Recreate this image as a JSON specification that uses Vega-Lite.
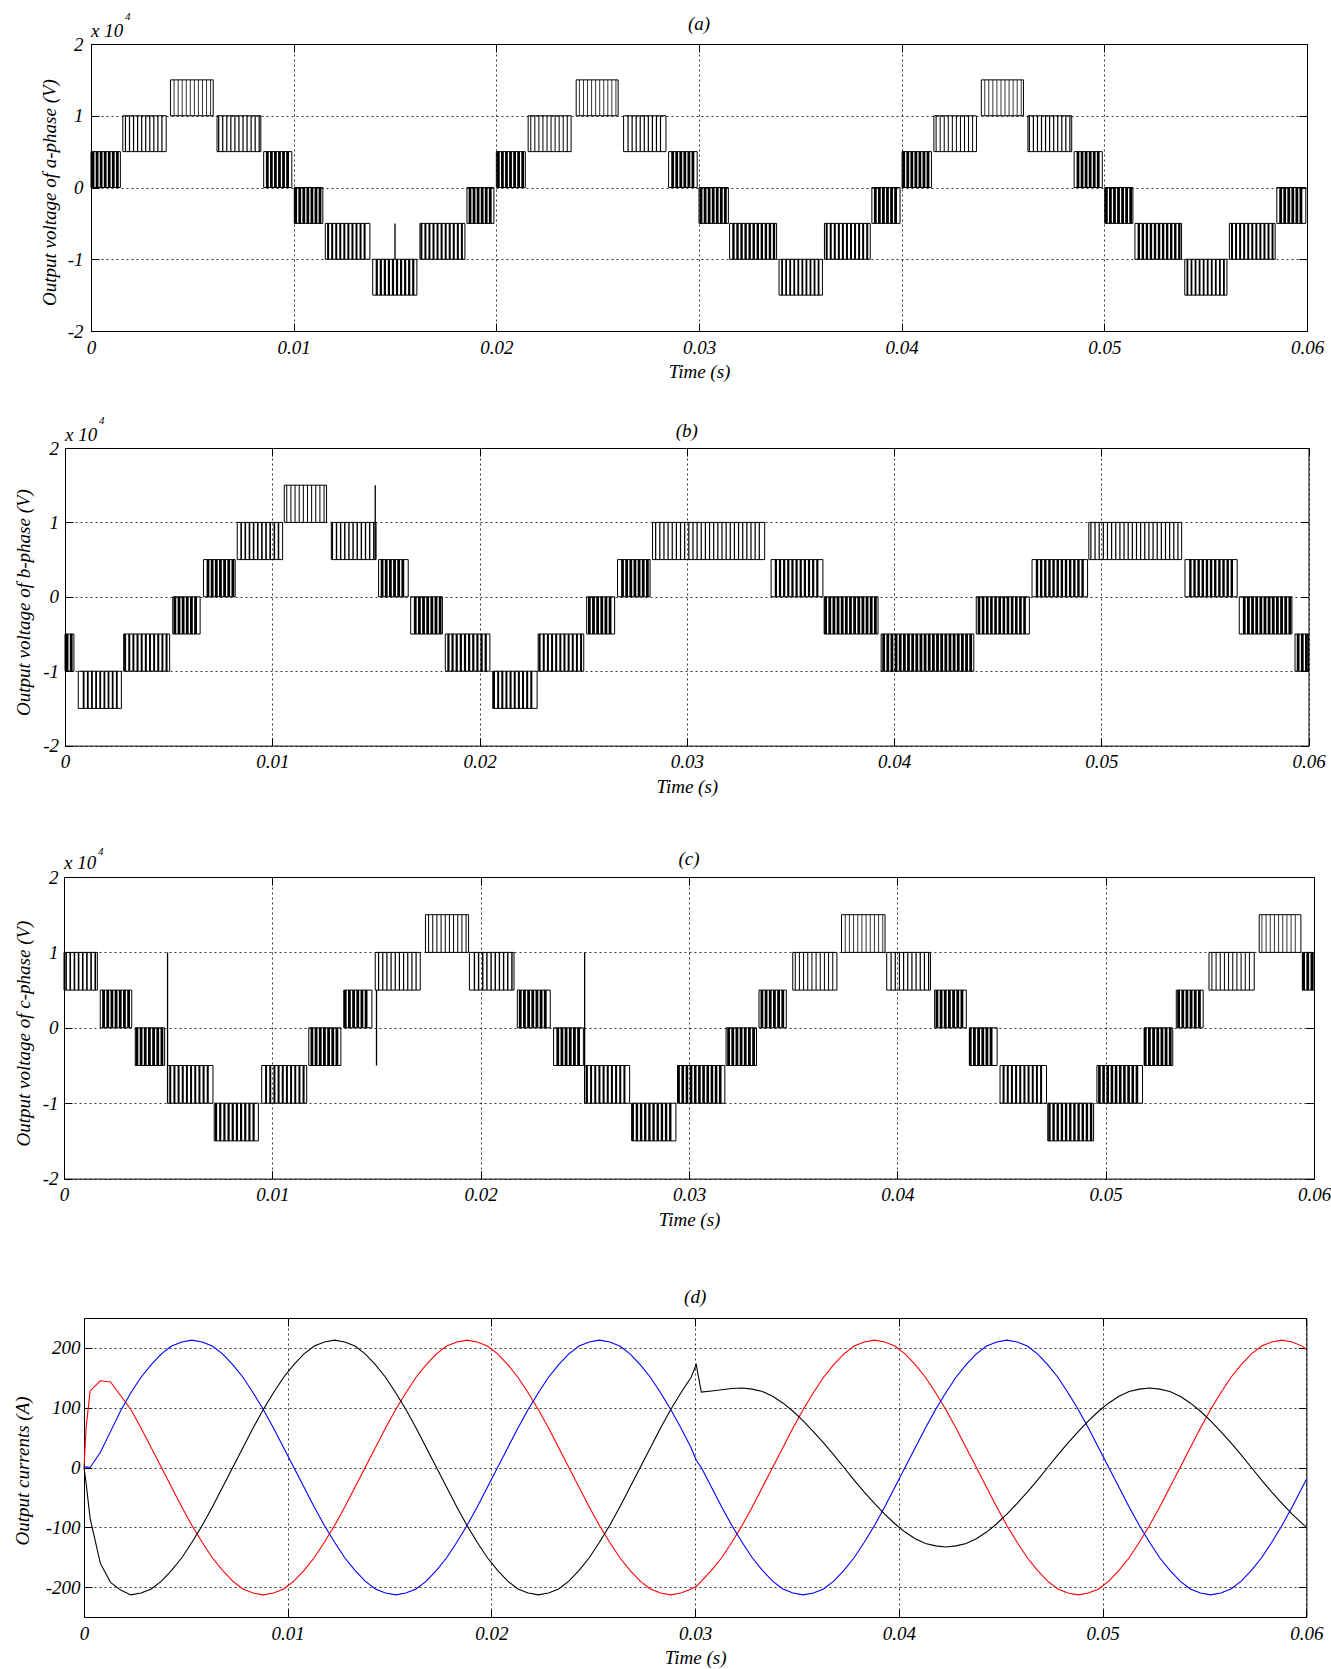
{
"$schema":"https://vega.github.io/schema/vega-lite/v6.json",
"background":"white",
"padding":{"left":9,"top":0,"right":1,"bottom":0},
"config":{
 "font":"Liberation Serif",
 "view":{"stroke":"black","strokeWidth":1},
 "axis":{"labelFont":"Liberation Serif","labelFontStyle":"italic","labelFontSize":19,"labelColor":"black","titleFont":"Liberation Serif","titleFontStyle":"italic","titleFontWeight":"normal","titleFontSize":19,"titleColor":"black","grid":true,"gridColor":"black","gridDash":[2,3],"gridWidth":0.8,"domain":false,"tickColor":"black","tickSize":-8,"tickWidth":1,"labelFlush":false,"labelOverlap":false}
},
"datasets":{
"segA":[
{"t0":0,"t1":1.45,"l":0,"h":0.5,"d":0.7,"c":[0.1,0.3,0.5,0.7,0.9,1.1,1.3]},
{"t0":1.57,"t1":3.71,"l":0.5,"h":1,"d":0.3,"c":[1.7,1.9,2.1,2.3,2.5,2.7,2.9,3.1,3.3,3.5]},
{"t0":3.92,"t1":6.03,"l":1,"h":1.5,"d":0.2,"c":[4.1,4.3,4.5,4.7,4.9,5.1,5.3,5.5,5.7,5.9]},
{"t0":6.22,"t1":8.38,"l":0.5,"h":1,"d":0.3,"c":[6.3,6.5,6.7,6.9,7.1,7.3,7.5,7.7,7.9,8.1,8.3]},
{"t0":8.52,"t1":9.91,"l":0,"h":0.5,"d":0.7,"c":[8.7,8.9,9.1,9.3,9.5,9.7]},
{"t0":10.03,"t1":11.44,"l":-0.5,"h":0,"d":0.7,"c":[10.1,10.3,10.5,10.7,10.9,11.1,11.3]},
{"t0":11.56,"t1":13.76,"l":-1,"h":-0.5,"d":0.5,"c":[11.7,11.9,12.1,12.3,12.5,12.7,12.9,13.1,13.3,13.5]},
{"t0":13.9,"t1":16.08,"l":-1.5,"h":-1,"d":0.55,"c":[14.1,14.3,14.5,14.7,14.9,15.1,15.3,15.5,15.7,15.9]},
{"t0":16.23,"t1":18.45,"l":-1,"h":-0.5,"d":0.5,"c":[16.3,16.5,16.7,16.9,17.1,17.3,17.5,17.7,17.9,18.1,18.3]},
{"t0":18.55,"t1":19.88,"l":-0.5,"h":0,"d":0.7,"c":[18.7,18.9,19.1,19.3,19.5,19.7]},
{"t0":20,"t1":21.43,"l":0,"h":0.5,"d":0.7,"c":[20.1,20.3,20.5,20.7,20.9,21.1,21.3]},
{"t0":21.57,"t1":23.69,"l":0.5,"h":1,"d":0.25,"c":[21.7,21.9,22.1,22.3,22.5,22.7,22.9,23.1,23.3,23.5]},
{"t0":23.94,"t1":26.01,"l":1,"h":1.5,"d":0.2,"c":[24.1,24.3,24.5,24.7,24.9,25.1,25.3,25.5,25.7,25.9]},
{"t0":26.28,"t1":28.37,"l":0.5,"h":1,"d":0.3,"c":[26.5,26.7,26.9,27.1,27.3,27.5,27.7,27.9,28.1]},
{"t0":28.5,"t1":29.91,"l":0,"h":0.5,"d":0.7,"c":[28.7,28.9,29.1,29.3,29.5,29.7]},
{"t0":30,"t1":31.45,"l":-0.5,"h":0,"d":0.7,"c":[30.1,30.3,30.5,30.7,30.9,31.1,31.3]},
{"t0":31.51,"t1":33.83,"l":-1,"h":-0.5,"d":0.6,"c":[31.7,31.9,32.1,32.3,32.5,32.7,32.9,33.1,33.3,33.5,33.7]},
{"t0":33.95,"t1":36.09,"l":-1.5,"h":-1,"d":0.45,"c":[34.1,34.3,34.5,34.7,34.9,35.1,35.3,35.5,35.7,35.9]},
{"t0":36.19,"t1":38.45,"l":-1,"h":-0.5,"d":0.5,"c":[36.3,36.5,36.7,36.9,37.1,37.3,37.5,37.7,37.9,38.1,38.3]},
{"t0":38.53,"t1":39.92,"l":-0.5,"h":0,"d":0.7,"c":[38.7,38.9,39.1,39.3,39.5,39.7]},
{"t0":40.02,"t1":41.47,"l":0,"h":0.5,"d":0.7,"c":[40.1,40.3,40.5,40.7,40.9,41.1,41.3]},
{"t0":41.59,"t1":43.69,"l":0.5,"h":1,"d":0.25,"c":[41.7,41.9,42.1,42.3,42.5,42.7,42.9,43.1,43.3,43.5]},
{"t0":43.93,"t1":46.01,"l":1,"h":1.5,"d":0.2,"c":[44.1,44.3,44.5,44.7,44.9,45.1,45.3,45.5,45.7,45.9]},
{"t0":46.23,"t1":48.39,"l":0.5,"h":1,"d":0.3,"c":[46.3,46.5,46.7,46.9,47.1,47.3,47.5,47.7,47.9,48.1,48.3]},
{"t0":48.51,"t1":49.9,"l":0,"h":0.5,"d":0.7,"c":[48.7,48.9,49.1,49.3,49.5,49.7]},
{"t0":50.02,"t1":51.41,"l":-0.5,"h":0,"d":0.7,"c":[50.1,50.3,50.5,50.7,50.9,51.1,51.3]},
{"t0":51.51,"t1":53.81,"l":-1,"h":-0.5,"d":0.6,"c":[51.7,51.9,52.1,52.3,52.5,52.7,52.9,53.1,53.3,53.5,53.7]},
{"t0":53.97,"t1":56.05,"l":-1.5,"h":-1,"d":0.45,"c":[54.1,54.3,54.5,54.7,54.9,55.1,55.3,55.5,55.7,55.9]},
{"t0":56.17,"t1":58.43,"l":-1,"h":-0.5,"d":0.5,"c":[56.3,56.5,56.7,56.9,57.1,57.3,57.5,57.7,57.9,58.1,58.3]},
{"t0":58.51,"t1":59.94,"l":-0.5,"h":0,"d":0.7,"c":[58.7,58.9,59.1,59.3,59.5,59.7]}
],
"segB":[
{"t0":0,"t1":0.43,"l":-1,"h":-0.5,"d":0.7,"c":[0.1,0.3]},
{"t0":0.64,"t1":2.72,"l":-1.5,"h":-1,"d":0.45,"c":[0.9,1.1,1.3,1.5,1.7,1.9,2.1,2.3,2.5]},
{"t0":2.83,"t1":5.05,"l":-1,"h":-0.5,"d":0.5,"c":[2.9,3.1,3.3,3.5,3.7,3.9,4.1,4.3,4.5,4.7,4.9]},
{"t0":5.2,"t1":6.52,"l":-0.5,"h":0,"d":0.7,"c":[5.3,5.5,5.7,5.9,6.1,6.3]},
{"t0":6.68,"t1":8.21,"l":0,"h":0.5,"d":0.7,"c":[6.9,7.1,7.3,7.5,7.7,7.9,8.1]},
{"t0":8.31,"t1":10.5,"l":0.5,"h":1,"d":0.4,"c":[8.5,8.7,8.9,9.1,9.3,9.5,9.7,9.9,10.1,10.3]},
{"t0":10.58,"t1":12.62,"l":1,"h":1.5,"d":0.25,"c":[10.7,10.9,11.1,11.3,11.5,11.7,11.9,12.1,12.3,12.5]},
{"t0":12.85,"t1":15.01,"l":0.5,"h":1,"d":0.35,"c":[12.9,13.1,13.3,13.5,13.7,13.9,14.1,14.3,14.5,14.7,14.9]},
{"t0":15.13,"t1":16.56,"l":0,"h":0.5,"d":0.7,"c":[15.3,15.5,15.7,15.9,16.1,16.3]},
{"t0":16.68,"t1":18.21,"l":-0.5,"h":0,"d":0.7,"c":[16.9,17.1,17.3,17.5,17.7,17.9,18.1]},
{"t0":18.35,"t1":20.5,"l":-1,"h":-0.5,"d":0.55,"c":[18.5,18.7,18.9,19.1,19.3,19.5,19.7,19.9,20.1,20.3]},
{"t0":20.64,"t1":22.78,"l":-1.5,"h":-1,"d":0.5,"c":[20.7,20.9,21.1,21.3,21.5,21.7,21.9,22.1,22.3,22.5]},
{"t0":22.83,"t1":25.03,"l":-1,"h":-0.5,"d":0.5,"c":[22.9,23.1,23.3,23.5,23.7,23.9,24.1,24.3,24.5,24.7,24.9]},
{"t0":25.17,"t1":26.52,"l":-0.5,"h":0,"d":0.7,"c":[25.3,25.5,25.7,25.9,26.1,26.3]},
{"t0":26.66,"t1":28.23,"l":0,"h":0.5,"d":0.7,"c":[26.9,27.1,27.3,27.5,27.7,27.9,28.1]},
{"t0":28.35,"t1":33.76,"l":0.5,"h":1,"d":0.3,"c":[28.5,28.7,28.9,29.1,29.3,29.5,29.7,29.9,30.1,30.3,30.5,30.7,30.9,31.1,31.3,31.5,31.7,31.9,32.1,32.3,32.5,32.7,32.9,33.1,33.3,33.5]},
{"t0":34.07,"t1":36.57,"l":0,"h":0.5,"d":0.55,"c":[34.3,34.5,34.7,34.9,35.1,35.3,35.5,35.7,35.9,36.1,36.3]},
{"t0":36.63,"t1":39.23,"l":-0.5,"h":0,"d":0.7,"c":[36.7,36.9,37.1,37.3,37.5,37.7,37.9,38.1,38.3,38.5,38.7,38.9,39.1]},
{"t0":39.38,"t1":43.85,"l":-1,"h":-0.5,"d":0.7,"c":[39.5,39.7,39.9,40.1,40.3,40.5,40.7,40.9,41.1,41.3,41.5,41.7,41.9,42.1,42.3,42.5,42.7,42.9,43.1,43.3,43.5,43.7]},
{"t0":43.97,"t1":46.53,"l":-0.5,"h":0,"d":0.65,"c":[44.1,44.3,44.5,44.7,44.9,45.1,45.3,45.5,45.7,45.9,46.1,46.3]},
{"t0":46.66,"t1":49.34,"l":0,"h":0.5,"d":0.6,"c":[46.9,47.1,47.3,47.5,47.7,47.9,48.1,48.3,48.5,48.7,48.9,49.1]},
{"t0":49.4,"t1":53.88,"l":0.5,"h":1,"d":0.3,"c":[49.5,49.7,49.9,50.1,50.3,50.5,50.7,50.9,51.1,51.3,51.5,51.7,51.9,52.1,52.3,52.5,52.7,52.9,53.1,53.3,53.5,53.7]},
{"t0":54.04,"t1":56.56,"l":0,"h":0.5,"d":0.6,"c":[54.3,54.5,54.7,54.9,55.1,55.3,55.5,55.7,55.9,56.1,56.3]},
{"t0":56.66,"t1":59.2,"l":-0.5,"h":0,"d":0.7,"c":[56.9,57.1,57.3,57.5,57.7,57.9,58.1,58.3,58.5,58.7,58.9,59.1]},
{"t0":59.35,"t1":60,"l":-1,"h":-0.5,"d":0.7,"c":[59.5,59.7,59.9]}
],
"segC":[
{"t0":0,"t1":1.6,"l":0.5,"h":1,"d":0.4,"c":[0.1,0.3,0.5,0.7,0.9,1.1,1.3,1.5]},
{"t0":1.74,"t1":3.25,"l":0,"h":0.5,"d":0.7,"c":[1.9,2.1,2.3,2.5,2.7,2.9,3.1]},
{"t0":3.42,"t1":4.83,"l":-0.5,"h":0,"d":0.7,"c":[3.5,3.7,3.9,4.1,4.3,4.5,4.7]},
{"t0":4.97,"t1":7.15,"l":-1,"h":-0.5,"d":0.5,"c":[5.1,5.3,5.5,5.7,5.9,6.1,6.3,6.5,6.7,6.9]},
{"t0":7.21,"t1":9.33,"l":-1.5,"h":-1,"d":0.55,"c":[7.3,7.5,7.7,7.9,8.1,8.3,8.5,8.7,8.9,9.1]},
{"t0":9.49,"t1":11.65,"l":-1,"h":-0.5,"d":0.5,"c":[9.7,9.9,10.1,10.3,10.5,10.7,10.9,11.1,11.3,11.5]},
{"t0":11.75,"t1":13.29,"l":-0.5,"h":0,"d":0.7,"c":[11.9,12.1,12.3,12.5,12.7,12.9,13.1]},
{"t0":13.43,"t1":14.78,"l":0,"h":0.5,"d":0.7,"c":[13.5,13.7,13.9,14.1,14.3,14.5]},
{"t0":14.94,"t1":17.1,"l":0.5,"h":1,"d":0.3,"c":[15.1,15.3,15.5,15.7,15.9,16.1,16.3,16.5,16.7,16.9]},
{"t0":17.35,"t1":19.42,"l":1,"h":1.5,"d":0.25,"c":[17.5,17.7,17.9,18.1,18.3,18.5,18.7,18.9,19.1,19.3]},
{"t0":19.46,"t1":21.6,"l":0.5,"h":1,"d":0.35,"c":[19.7,19.9,20.1,20.3,20.5,20.7,20.9,21.1,21.3,21.5]},
{"t0":21.76,"t1":23.34,"l":0,"h":0.5,"d":0.7,"c":[21.9,22.1,22.3,22.5,22.7,22.9,23.1]},
{"t0":23.5,"t1":24.93,"l":-0.5,"h":0,"d":0.7,"c":[23.7,23.9,24.1,24.3,24.5,24.7]},
{"t0":24.99,"t1":27.15,"l":-1,"h":-0.5,"d":0.5,"c":[25.1,25.3,25.5,25.7,25.9,26.1,26.3,26.5,26.7,26.9]},
{"t0":27.25,"t1":29.37,"l":-1.5,"h":-1,"d":0.6,"c":[27.3,27.5,27.7,27.9,28.1,28.3,28.5,28.7,28.9,29.1]},
{"t0":29.45,"t1":31.72,"l":-1,"h":-0.5,"d":0.65,"c":[29.5,29.7,29.9,30.1,30.3,30.5,30.7,30.9,31.1,31.3,31.5]},
{"t0":31.78,"t1":33.24,"l":-0.5,"h":0,"d":0.7,"c":[31.9,32.1,32.3,32.5,32.7,32.9,33.1]},
{"t0":33.36,"t1":34.67,"l":0,"h":0.5,"d":0.7,"c":[33.5,33.7,33.9,34.1,34.3,34.5]},
{"t0":34.98,"t1":37.1,"l":0.5,"h":1,"d":0.25,"c":[35.1,35.3,35.5,35.7,35.9,36.1,36.3,36.5,36.7,36.9]},
{"t0":37.32,"t1":39.41,"l":1,"h":1.5,"d":0.2,"c":[37.5,37.7,37.9,38.1,38.3,38.5,38.7,38.9,39.1,39.3]},
{"t0":39.49,"t1":41.59,"l":0.5,"h":1,"d":0.3,"c":[39.7,39.9,40.1,40.3,40.5,40.7,40.9,41.1,41.3,41.5]},
{"t0":41.79,"t1":43.31,"l":0,"h":0.5,"d":0.7,"c":[41.9,42.1,42.3,42.5,42.7,42.9,43.1]},
{"t0":43.47,"t1":44.79,"l":-0.5,"h":0,"d":0.7,"c":[43.5,43.7,43.9,44.1,44.3,44.5]},
{"t0":44.93,"t1":47.16,"l":-1,"h":-0.5,"d":0.5,"c":[45.1,45.3,45.5,45.7,45.9,46.1,46.3,46.5,46.7,46.9]},
{"t0":47.22,"t1":49.42,"l":-1.5,"h":-1,"d":0.6,"c":[47.3,47.5,47.7,47.9,48.1,48.3,48.5,48.7,48.9,49.1,49.3]},
{"t0":49.58,"t1":51.77,"l":-1,"h":-0.5,"d":0.65,"c":[49.7,49.9,50.1,50.3,50.5,50.7,50.9,51.1,51.3,51.5]},
{"t0":51.85,"t1":53.22,"l":-0.5,"h":0,"d":0.7,"c":[51.9,52.1,52.3,52.5,52.7,52.9,53.1]},
{"t0":53.39,"t1":54.68,"l":0,"h":0.5,"d":0.7,"c":[53.5,53.7,53.9,54.1,54.3,54.5]},
{"t0":54.96,"t1":57.13,"l":0.5,"h":1,"d":0.25,"c":[55.1,55.3,55.5,55.7,55.9,56.1,56.3,56.5,56.7,56.9]},
{"t0":57.37,"t1":59.37,"l":1,"h":1.5,"d":0.2,"c":[57.5,57.7,57.9,58.1,58.3,58.5,58.7,58.9,59.1]},
{"t0":59.44,"t1":60,"l":0.5,"h":1,"d":0.7,"c":[59.5,59.7,59.9]}
],
"spikes":[
{"p":"a","t":15.0,"l":-1,"h":-0.5},
{"p":"b","t":14.97,"l":0.5,"h":1.5},
{"p":"c","t":4.97,"l":-1,"h":1},
{"p":"c","t":15.0,"l":-0.5,"h":0.5},
{"p":"c","t":24.99,"l":-1,"h":1}
],
"cur":[
{"t":0,"r":0,"b":0,"k":0},
{"t":0.1,"r":65,"b":1,"k":-25},
{"t":0.3,"r":128,"b":0,"k":-85},
{"t":0.8,"r":145,"b":25,"k":-160},
{"t":1.3,"r":143,"b":60,"k":-192},
{"t":1.8,"r":120,"b":95,"k":-205},
{"t":2.3,"r":97,"b":125,"k":-213},
{"t":2.8,"r":66,"b":151,"k":-210},
{"t":3.3,"r":33,"b":172,"k":-203},
{"t":3.8,"r":0,"b":190,"k":-190},
{"t":4.3,"r":-33,"b":203,"k":-172},
{"t":4.8,"r":-66,"b":210,"k":-151},
{"t":5.3,"r":-97,"b":213,"k":-125},
{"t":5.8,"r":-125,"b":210,"k":-97},
{"t":6.3,"r":-151,"b":203,"k":-66},
{"t":6.8,"r":-172,"b":190,"k":-33},
{"t":7.3,"r":-190,"b":172,"k":0},
{"t":7.8,"r":-203,"b":151,"k":33},
{"t":8.3,"r":-210,"b":125,"k":66},
{"t":8.8,"r":-213,"b":97,"k":97},
{"t":9.3,"r":-210,"b":66,"k":125},
{"t":9.8,"r":-203,"b":33,"k":151},
{"t":10.3,"r":-190,"b":0,"k":172},
{"t":10.8,"r":-172,"b":-33,"k":190},
{"t":11.3,"r":-151,"b":-66,"k":203},
{"t":11.8,"r":-125,"b":-97,"k":210},
{"t":12.3,"r":-97,"b":-125,"k":213},
{"t":12.8,"r":-66,"b":-151,"k":210},
{"t":13.3,"r":-33,"b":-172,"k":203},
{"t":13.8,"r":0,"b":-190,"k":190},
{"t":14.3,"r":33,"b":-203,"k":172},
{"t":14.8,"r":66,"b":-210,"k":151},
{"t":15.3,"r":97,"b":-213,"k":125},
{"t":15.8,"r":125,"b":-210,"k":97},
{"t":16.3,"r":151,"b":-203,"k":66},
{"t":16.8,"r":172,"b":-190,"k":33},
{"t":17.3,"r":190,"b":-172,"k":0},
{"t":17.8,"r":203,"b":-151,"k":-33},
{"t":18.3,"r":210,"b":-125,"k":-66},
{"t":18.8,"r":213,"b":-97,"k":-97},
{"t":19.3,"r":210,"b":-66,"k":-125},
{"t":19.8,"r":203,"b":-33,"k":-151},
{"t":20.3,"r":190,"b":0,"k":-172},
{"t":20.8,"r":172,"b":33,"k":-190},
{"t":21.3,"r":151,"b":66,"k":-203},
{"t":21.8,"r":125,"b":97,"k":-210},
{"t":22.3,"r":97,"b":125,"k":-213},
{"t":22.8,"r":66,"b":151,"k":-210},
{"t":23.3,"r":33,"b":172,"k":-203},
{"t":23.8,"r":0,"b":190,"k":-190},
{"t":24.3,"r":-33,"b":203,"k":-172},
{"t":24.8,"r":-66,"b":210,"k":-151},
{"t":25.3,"r":-97,"b":213,"k":-125},
{"t":25.8,"r":-125,"b":210,"k":-97},
{"t":26.3,"r":-151,"b":203,"k":-66},
{"t":26.8,"r":-172,"b":190,"k":-33},
{"t":27.3,"r":-190,"b":172,"k":0},
{"t":27.8,"r":-203,"b":151,"k":33},
{"t":28.3,"r":-210,"b":125,"k":66},
{"t":28.8,"r":-213,"b":97,"k":97},
{"t":29.3,"r":-210,"b":66,"k":125},
{"t":29.8,"r":-203,"b":33,"k":151},
{"t":30.05,"r":-199,"b":12,"k":172},
{"t":30.3,"r":-190,"b":0,"k":126},
{"t":30.8,"r":-172,"b":-33,"k":128},
{"t":31.3,"r":-151,"b":-66,"k":130},
{"t":31.8,"r":-125,"b":-97,"k":132},
{"t":32.3,"r":-97,"b":-125,"k":133},
{"t":32.8,"r":-66,"b":-151,"k":131},
{"t":33.3,"r":-33,"b":-172,"k":127},
{"t":33.8,"r":0,"b":-190,"k":119},
{"t":34.3,"r":33,"b":-203,"k":108},
{"t":34.8,"r":66,"b":-210,"k":94},
{"t":35.3,"r":97,"b":-213,"k":78},
{"t":35.8,"r":125,"b":-210,"k":60},
{"t":36.3,"r":151,"b":-203,"k":41},
{"t":36.8,"r":172,"b":-190,"k":21},
{"t":37.3,"r":190,"b":-172,"k":0},
{"t":37.8,"r":203,"b":-151,"k":-21},
{"t":38.3,"r":210,"b":-125,"k":-41},
{"t":38.8,"r":213,"b":-97,"k":-60},
{"t":39.3,"r":210,"b":-66,"k":-78},
{"t":39.8,"r":203,"b":-33,"k":-94},
{"t":40.3,"r":190,"b":0,"k":-108},
{"t":40.8,"r":172,"b":33,"k":-119},
{"t":41.3,"r":151,"b":66,"k":-127},
{"t":41.8,"r":125,"b":97,"k":-131},
{"t":42.3,"r":97,"b":125,"k":-133},
{"t":42.8,"r":66,"b":151,"k":-131},
{"t":43.3,"r":33,"b":172,"k":-127},
{"t":43.8,"r":0,"b":190,"k":-119},
{"t":44.3,"r":-33,"b":203,"k":-108},
{"t":44.8,"r":-66,"b":210,"k":-94},
{"t":45.3,"r":-97,"b":213,"k":-78},
{"t":45.8,"r":-125,"b":210,"k":-60},
{"t":46.3,"r":-151,"b":203,"k":-41},
{"t":46.8,"r":-172,"b":190,"k":-21},
{"t":47.3,"r":-190,"b":172,"k":0},
{"t":47.8,"r":-203,"b":151,"k":21},
{"t":48.3,"r":-210,"b":125,"k":41},
{"t":48.8,"r":-213,"b":97,"k":60},
{"t":49.3,"r":-210,"b":66,"k":78},
{"t":49.8,"r":-203,"b":33,"k":94},
{"t":50.3,"r":-190,"b":0,"k":108},
{"t":50.8,"r":-172,"b":-33,"k":119},
{"t":51.3,"r":-151,"b":-66,"k":127},
{"t":51.8,"r":-125,"b":-97,"k":131},
{"t":52.3,"r":-97,"b":-125,"k":133},
{"t":52.8,"r":-66,"b":-151,"k":131},
{"t":53.3,"r":-33,"b":-172,"k":127},
{"t":53.8,"r":0,"b":-190,"k":119},
{"t":54.3,"r":33,"b":-203,"k":108},
{"t":54.8,"r":66,"b":-210,"k":94},
{"t":55.3,"r":97,"b":-213,"k":78},
{"t":55.8,"r":125,"b":-210,"k":60},
{"t":56.3,"r":151,"b":-203,"k":41},
{"t":56.8,"r":172,"b":-190,"k":21},
{"t":57.3,"r":190,"b":-172,"k":0},
{"t":57.8,"r":203,"b":-151,"k":-21},
{"t":58.3,"r":210,"b":-125,"k":-41},
{"t":58.8,"r":213,"b":-97,"k":-60},
{"t":59.3,"r":210,"b":-66,"k":-78},
{"t":59.8,"r":203,"b":-33,"k":-94},
{"t":60,"r":197,"b":-20,"k":-100}
]
},
"spacing":0,
"vconcat":[
{"spacing":0,"hconcat":[
 {"width":27.5,"height":10,"data":{"values":[]},"mark":"point","view":{"stroke":null}},
 {"width":1216,"height":287,
  "layer":[
   {"data":{"name":"segA"},"mark":{"type":"rect","fillOpacity":0,"stroke":"black","strokeWidth":1},
    "encoding":{
     "x":{"field":"t0","type":"quantitative","scale":{"domain":[0,60],"nice":false,"zero":false},
      "axis":{"orient":"bottom","values":[0,10,20,30,40,50,60],"labelExpr":"datum.value == 0 ? '0' : format(datum.value / 1000, '.2f')","labelPadding":15,"title":"Time (s)","titleX":608,"titleY":40,"titleBaseline":"middle","minExtent":60,"maxExtent":60}},
     "x2":{"field":"t1"},
     "y":{"field":"l","type":"quantitative","scale":{"domain":[-2,2],"nice":false,"zero":false},
      "axis":{"orient":"left","values":[-2,-1,0,1,2],"labelExpr":"'' + datum.value","labelPadding":16,"title":"Output voltage of a-phase (V)","titleX":-35.5,"titleY":148,"titleBaseline":"alphabetic","minExtent":53,"maxExtent":53}},
     "y2":{"field":"h"}}},
   {"data":{"name":"segA"},"transform":[{"flatten":["c"],"as":["tc"]}],"mark":{"type":"rule","color":"black"},
    "encoding":{"x":{"field":"tc","type":"quantitative","axis":null},"y":{"field":"l","type":"quantitative","axis":null},"y2":{"field":"h"},
     "size":{"field":"d","type":"quantitative","scale":{"domain":[0,1],"range":[0,4]},"legend":null}}},
   {"data":{"name":"spikes"},"transform":[{"filter":"datum.p == 'a'"}],"mark":{"type":"rule","color":"black","strokeWidth":1.3},
    "encoding":{"x":{"field":"t","type":"quantitative","axis":null},"y":{"field":"l","type":"quantitative","axis":null},"y2":{"field":"h"}}},
   {"data":{"values":[{"s":"x 10"}]},"mark":{"type":"text","align":"left","baseline":"alphabetic","dy":-7,"fontSize":19,"fontStyle":"italic","font":"Liberation Serif","color":"black"},
    "encoding":{"x":{"datum":0,"type":"quantitative","axis":null},"y":{"datum":2,"type":"quantitative","axis":null},"text":{"field":"s"}}},
   {"data":{"values":[{"s":"4"}]},"mark":{"type":"text","align":"left","baseline":"alphabetic","dx":34,"dy":-24,"fontSize":11,"fontStyle":"italic","font":"Liberation Serif","color":"black"},
    "encoding":{"x":{"datum":0,"type":"quantitative","axis":null},"y":{"datum":2,"type":"quantitative","axis":null},"text":{"field":"s"}}},
   {"data":{"values":[{"s":"(a)"}]},"mark":{"type":"text","align":"center","baseline":"middle","dy":-20,"fontSize":19,"fontStyle":"italic","font":"Liberation Serif","color":"black"},
    "encoding":{"x":{"datum":30,"type":"quantitative","axis":null},"y":{"datum":2,"type":"quantitative","axis":null},"text":{"field":"s"}}},
   {"data":{"values":[{}]},"mark":{"type":"point","opacity":0},
    "encoding":{"x":{"datum":0,"type":"quantitative","axis":{"orient":"top","values":[0,10,20,30,40,50,60],"labels":false,"grid":false,"title":null,"minExtent":43.3,"maxExtent":43.3}},
     "y":{"datum":0,"type":"quantitative","axis":{"orient":"right","values":[-2,-1,0,1,2],"labels":false,"grid":false,"title":null}}}}
  ],
  "resolve":{"axis":{"x":"independent","y":"independent"}}}
]},
{"spacing":0,"hconcat":[
 {"width":2,"height":10,"data":{"values":[]},"mark":"point","view":{"stroke":null}},
 {"width":1243.5,"height":297.6,
  "layer":[
   {"data":{"name":"segB"},"mark":{"type":"rect","fillOpacity":0,"stroke":"black","strokeWidth":1},
    "encoding":{
     "x":{"field":"t0","type":"quantitative","scale":{"domain":[0,60],"nice":false,"zero":false},
      "axis":{"orient":"bottom","values":[0,10,20,30,40,50,60],"labelExpr":"datum.value == 0 ? '0' : format(datum.value / 1000, '.2f')","labelPadding":15,"title":"Time (s)","titleX":621.75,"titleY":40.5,"titleBaseline":"middle","minExtent":60,"maxExtent":60}},
     "x2":{"field":"t1"},
     "y":{"field":"l","type":"quantitative","scale":{"domain":[-2,2],"nice":false,"zero":false},
      "axis":{"orient":"left","values":[-2,-1,0,1,2],"labelExpr":"'' + datum.value","labelPadding":14.5,"title":"Output voltage of b-phase (V)","titleX":-36,"titleY":154,"titleBaseline":"alphabetic","minExtent":53,"maxExtent":53}},
     "y2":{"field":"h"}}},
   {"data":{"name":"segB"},"transform":[{"flatten":["c"],"as":["tc"]}],"mark":{"type":"rule","color":"black"},
    "encoding":{"x":{"field":"tc","type":"quantitative","axis":null},"y":{"field":"l","type":"quantitative","axis":null},"y2":{"field":"h"},
     "size":{"field":"d","type":"quantitative","scale":{"domain":[0,1],"range":[0,4]},"legend":null}}},
   {"data":{"name":"spikes"},"transform":[{"filter":"datum.p == 'b'"}],"mark":{"type":"rule","color":"black","strokeWidth":1.3},
    "encoding":{"x":{"field":"t","type":"quantitative","axis":null},"y":{"field":"l","type":"quantitative","axis":null},"y2":{"field":"h"}}},
   {"data":{"values":[{"s":"x 10"}]},"mark":{"type":"text","align":"left","baseline":"alphabetic","dy":-7,"fontSize":19,"fontStyle":"italic","font":"Liberation Serif","color":"black"},
    "encoding":{"x":{"datum":0,"type":"quantitative","axis":null},"y":{"datum":2,"type":"quantitative","axis":null},"text":{"field":"s"}}},
   {"data":{"values":[{"s":"4"}]},"mark":{"type":"text","align":"left","baseline":"alphabetic","dx":34,"dy":-24,"fontSize":11,"fontStyle":"italic","font":"Liberation Serif","color":"black"},
    "encoding":{"x":{"datum":0,"type":"quantitative","axis":null},"y":{"datum":2,"type":"quantitative","axis":null},"text":{"field":"s"}}},
   {"data":{"values":[{"s":"(b)"}]},"mark":{"type":"text","align":"center","baseline":"middle","dy":-17.5,"fontSize":19,"fontStyle":"italic","font":"Liberation Serif","color":"black"},
    "encoding":{"x":{"datum":30,"type":"quantitative","axis":null},"y":{"datum":2,"type":"quantitative","axis":null},"text":{"field":"s"}}},
   {"data":{"values":[{}]},"mark":{"type":"point","opacity":0},
    "encoding":{"x":{"datum":0,"type":"quantitative","axis":{"orient":"top","values":[0,10,20,30,40,50,60],"labels":false,"grid":false,"title":null,"minExtent":55.2,"maxExtent":55.2}},
     "y":{"datum":0,"type":"quantitative","axis":{"orient":"right","values":[-2,-1,0,1,2],"labels":false,"grid":false,"title":null}}}}
  ],
  "resolve":{"axis":{"x":"independent","y":"independent"}}}
]},
{"spacing":0,"hconcat":[
 {"width":0.7,"height":10,"data":{"values":[]},"mark":"point","view":{"stroke":null}},
 {"width":1250,"height":301.6,
  "layer":[
   {"data":{"name":"segC"},"mark":{"type":"rect","fillOpacity":0,"stroke":"black","strokeWidth":1},
    "encoding":{
     "x":{"field":"t0","type":"quantitative","scale":{"domain":[0,60],"nice":false,"zero":false},
      "axis":{"orient":"bottom","values":[0,10,20,30,40,50,60],"labelExpr":"datum.value == 0 ? '0' : format(datum.value / 1000, '.2f')","labelPadding":15,"title":"Time (s)","titleX":625,"titleY":41,"titleBaseline":"middle","minExtent":60,"maxExtent":60}},
     "x2":{"field":"t1"},
     "y":{"field":"l","type":"quantitative","scale":{"domain":[-2,2],"nice":false,"zero":false},
      "axis":{"orient":"left","values":[-2,-1,0,1,2],"labelExpr":"'' + datum.value","labelPadding":14,"title":"Output voltage of c-phase (V)","titleX":-34.7,"titleY":156,"titleBaseline":"alphabetic","minExtent":53,"maxExtent":53}},
     "y2":{"field":"h"}}},
   {"data":{"name":"segC"},"transform":[{"flatten":["c"],"as":["tc"]}],"mark":{"type":"rule","color":"black"},
    "encoding":{"x":{"field":"tc","type":"quantitative","axis":null},"y":{"field":"l","type":"quantitative","axis":null},"y2":{"field":"h"},
     "size":{"field":"d","type":"quantitative","scale":{"domain":[0,1],"range":[0,4]},"legend":null}}},
   {"data":{"name":"spikes"},"transform":[{"filter":"datum.p == 'c'"}],"mark":{"type":"rule","color":"black","strokeWidth":1.3},
    "encoding":{"x":{"field":"t","type":"quantitative","axis":null},"y":{"field":"l","type":"quantitative","axis":null},"y2":{"field":"h"}}},
   {"data":{"values":[{"s":"x 10"}]},"mark":{"type":"text","align":"left","baseline":"alphabetic","dy":-8,"fontSize":19,"fontStyle":"italic","font":"Liberation Serif","color":"black"},
    "encoding":{"x":{"datum":0,"type":"quantitative","axis":null},"y":{"datum":2,"type":"quantitative","axis":null},"text":{"field":"s"}}},
   {"data":{"values":[{"s":"4"}]},"mark":{"type":"text","align":"left","baseline":"alphabetic","dx":34,"dy":-22,"fontSize":11,"fontStyle":"italic","font":"Liberation Serif","color":"black"},
    "encoding":{"x":{"datum":0,"type":"quantitative","axis":null},"y":{"datum":2,"type":"quantitative","axis":null},"text":{"field":"s"}}},
   {"data":{"values":[{"s":"(c)"}]},"mark":{"type":"text","align":"center","baseline":"middle","dy":-18.5,"fontSize":19,"fontStyle":"italic","font":"Liberation Serif","color":"black"},
    "encoding":{"x":{"datum":30,"type":"quantitative","axis":null},"y":{"datum":2,"type":"quantitative","axis":null},"text":{"field":"s"}}},
   {"data":{"values":[{}]},"mark":{"type":"point","opacity":0},
    "encoding":{"x":{"datum":0,"type":"quantitative","axis":{"orient":"top","values":[0,10,20,30,40,50,60],"labels":false,"grid":false,"title":null,"minExtent":69.2,"maxExtent":69.2}},
     "y":{"datum":0,"type":"quantitative","axis":{"orient":"right","values":[-2,-1,0,1,2],"labels":false,"grid":false,"title":null}}}}
  ],
  "resolve":{"axis":{"x":"independent","y":"independent"}}}
]},
{"spacing":0,"hconcat":[
 {"width":2,"height":10,"data":{"values":[]},"mark":"point","view":{"stroke":null}},
 {"width":1222.4,"height":299,
  "layer":[
   {"data":{"name":"cur"},"transform":[{"fold":["r","b","k"],"as":["s","v"]}],"mark":{"type":"line","strokeWidth":1.1},
    "encoding":{
     "x":{"field":"t","type":"quantitative","scale":{"domain":[0,60],"nice":false,"zero":false},
      "axis":{"orient":"bottom","values":[0,10,20,30,40,50,60],"labelExpr":"datum.value == 0 ? '0' : format(datum.value / 1000, '.2f')","labelPadding":15,"title":"Time (s)","titleX":611.2,"titleY":40.2,"titleBaseline":"middle","minExtent":50,"maxExtent":50}},
     "y":{"field":"v","type":"quantitative","scale":{"domain":[-250,250],"nice":false,"zero":false},
      "axis":{"orient":"left","values":[-200,-100,0,100,200],"labelExpr":"'' + datum.value","labelPadding":12,"title":"Output currents (A)","titleX":-55.3,"titleY":152.5,"titleBaseline":"alphabetic","minExtent":72,"maxExtent":72}},
     "color":{"field":"s","type":"nominal","scale":{"domain":["r","b","k"],"range":["#ff0000","#0000ff","#000000"]},"legend":null}}},
   {"data":{"values":[{"s":"(d)"}]},"mark":{"type":"text","align":"center","baseline":"middle","dy":-20.7,"fontSize":19,"fontStyle":"italic","font":"Liberation Serif","color":"black"},
    "encoding":{"x":{"datum":30,"type":"quantitative","axis":null},"y":{"datum":250,"type":"quantitative","axis":null},"text":{"field":"s"}}},
   {"data":{"values":[{}]},"mark":{"type":"point","opacity":0},
    "encoding":{"x":{"datum":0,"type":"quantitative","axis":{"orient":"top","values":[0,10,20,30,40,50,60],"labels":false,"grid":false,"title":null,"minExtent":77.2,"maxExtent":77.2}},
     "y":{"datum":0,"type":"quantitative","axis":{"orient":"right","values":[-200,-100,0,100,200],"labels":false,"grid":false,"title":null}}}}
  ],
  "resolve":{"axis":{"x":"independent","y":"independent"}}}
]}
]
}
